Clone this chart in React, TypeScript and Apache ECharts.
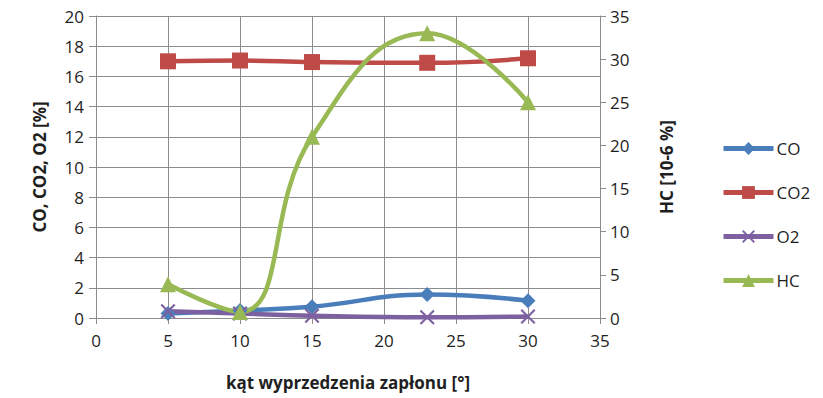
import React, { useEffect, useRef } from "react";
import * as echarts from "echarts";

// Ignition advance angle [°]
const angles = [5, 10, 15, 23, 30];
// Exhaust components [%]
const coValues = [0.3, 0.5, 0.75, 1.55, 1.15];
const co2Values = [17.0, 17.05, 16.95, 16.9, 17.2];
const o2Values = [0.45, 0.3, 0.15, 0.05, 0.1];
// Hydrocarbons [10-6 %]
const hcValues = [3.9, 0.7, 21.0, 33.0, 25.0];

const gridColor = "#8c8c8c";
const textColor = "#1f1f1f";
const fontFamily = "'Open Sans', 'Liberation Sans', sans-serif";

const crossSymbol =
  "path://M0,1 L1,0 L5,4 L9,0 L10,1 L6,5 L10,9 L9,10 L5,6 L1,10 L0,9 L4,5 Z";

const pairs = (ys: number[]) => angles.map((x, i) => [x, ys[i]]);

export default function App() {
  const ref = useRef<HTMLDivElement>(null);

  useEffect(() => {
    if (!ref.current) return;
    const chart = echarts.init(ref.current, undefined, { renderer: "svg" });

    const lineSeries = (
      name: string,
      data: number[],
      color: string,
      symbol: string,
      symbolSize: number,
      yAxisIndex = 0
    ) => ({
      name,
      type: "line",
      data: pairs(data),
      yAxisIndex,
      smooth: 0.45,
      symbol,
      symbolSize,
      showSymbol: true,
      lineStyle: { color, width: 4.5 },
      itemStyle: { color, borderWidth: 0 },
      emphasis: { disabled: true },
    });

    chart.setOption({
      animation: false,
      backgroundColor: "#ffffff",
      textStyle: { fontFamily },
      grid: { left: 96, right: 223, top: 16, bottom: 80, containLabel: false },
      legend: {
        orient: "vertical",
        left: 716,
        top: 135,
        itemWidth: 50,
        itemHeight: 16,
        itemGap: 27,
        lineStyle: { width: 5 },
        textStyle: { fontSize: 17, color: textColor, fontFamily, padding: [0, 0, 0, -2] },
        data: ["CO", "CO2", "O2", "HC"],
      },
      xAxis: {
        type: "value",
        min: 0,
        max: 35,
        interval: 5,
        name: "kąt wyprzedzenia zapłonu [°]",
        nameLocation: "middle",
        nameGap: 56,
        nameTextStyle: { fontSize: 17, fontWeight: "bold", color: textColor, fontFamily },
        axisLine: { show: true, lineStyle: { color: gridColor, width: 1 } },
        axisTick: { show: true, length: 6, lineStyle: { color: gridColor } },
        axisLabel: { fontSize: 17, color: textColor, margin: 14, fontFamily },
        splitLine: { show: true, lineStyle: { color: gridColor, width: 1 } },
      },
      yAxis: [
        {
          type: "value",
          min: 0,
          max: 20,
          interval: 2,
          position: "left",
          name: "CO, CO2, O2 [%]",
          nameLocation: "middle",
          nameGap: 48,
          nameTextStyle: { fontSize: 17, fontWeight: "bold", color: textColor, fontFamily },
          axisLine: { show: true, lineStyle: { color: gridColor, width: 1 } },
          axisTick: { show: true, length: 7, lineStyle: { color: gridColor } },
          axisLabel: { fontSize: 17, color: textColor, margin: 12, fontFamily },
          splitLine: { show: true, lineStyle: { color: gridColor, width: 1 } },
        },
        {
          type: "value",
          min: 0,
          max: 35,
          interval: 5,
          position: "right",
          name: "HC [10-6 %]",
          nameLocation: "middle",
          nameGap: 58,
          nameTextStyle: { fontSize: 17, fontWeight: "bold", color: textColor, fontFamily },
          axisLine: { show: true, lineStyle: { color: gridColor, width: 1 } },
          axisTick: { show: true, length: 6, lineStyle: { color: gridColor } },
          axisLabel: { fontSize: 17, color: textColor, margin: 10, fontFamily },
          splitLine: { show: false },
        },
      ],
      series: [
        lineSeries("CO", coValues, "#4a7ebb", "diamond", 15),
        lineSeries("CO2", co2Values, "#be4b48", "rect", 16),
        lineSeries("O2", o2Values, "#7d60a0", crossSymbol, 15),
        lineSeries("HC", hcValues, "#98b954", "triangle", 16, 1),
      ],
    });

    return () => chart.dispose();
  }, []);

  return (
    <div
      ref={ref}
      style={{ position: "absolute", left: 0, top: 0, width: 823, height: 398 }}
    />
  );
}
